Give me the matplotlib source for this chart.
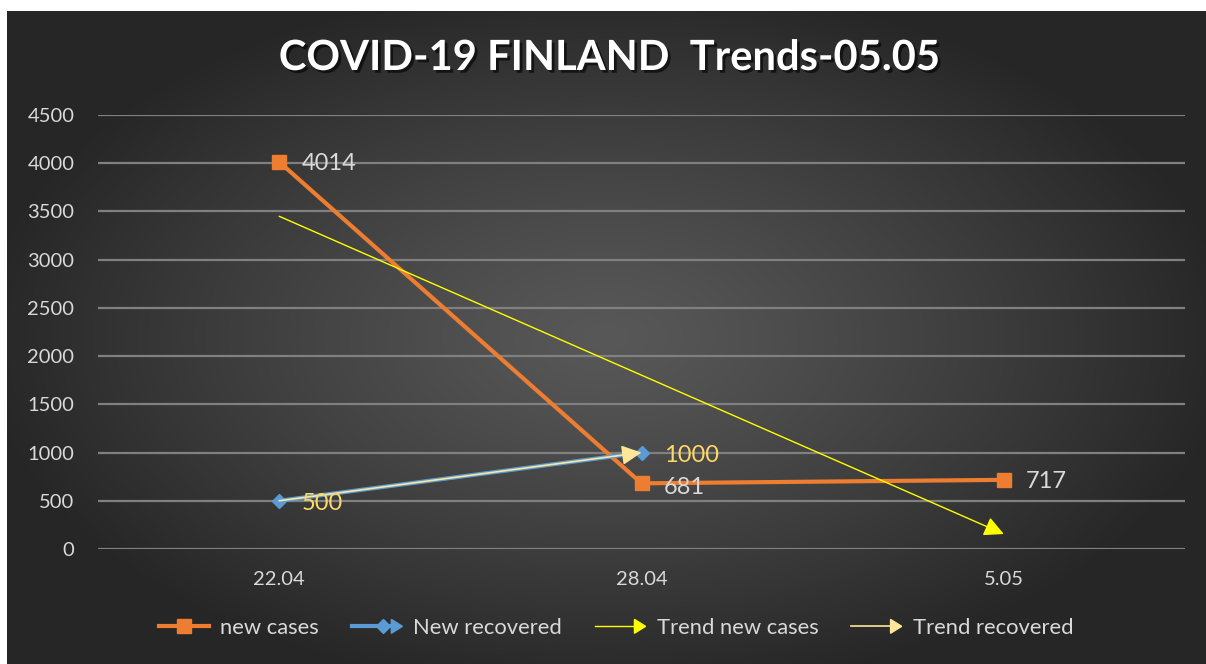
import numpy as np
import matplotlib
matplotlib.use("Agg")
import matplotlib.pyplot as plt
from matplotlib.lines import Line2D
from matplotlib.patches import Polygon
from matplotlib.legend_handler import HandlerBase
import matplotlib.patheffects as pe

plt.rcParams['font.family'] = ['Lato', 'DejaVu Sans']

# ---- data ----
dates = ["22.04", "28.04", "5.05"]
new_cases = [4014, 681, 717]
recovered_dates = ["22.04", "28.04"]
new_recovered = [500, 1000]
trend_nc_dates = ["22.04", "5.05"]
trend_new_cases = [3450, 155]
trend_rec_dates = ["22.04", "28.04"]
trend_recovered = [500, 1000]
y_ticks = [0, 500, 1000, 1500, 2000, 2500, 3000, 3500, 4000, 4500]
title = "COVID-19 FINLAND  Trends-05.05"

ORANGE = "#ED7D31"
BLUE = "#5B9BD5"
YELLOW = "#FFFF00"
LIGHTYEL = "#FFE699"
LABEL_GRAY = "#D9D9D9"
LABEL_YEL = "#FFD966"

W, H = 1206, 664
fig = plt.figure(figsize=(W / 100, H / 100), dpi=100)
fig.patch.set_facecolor("white")

# ---- gradient background panel ----
bg = fig.add_axes([7 / W, 0, 1 - 7 / W, (H - 11) / H])
bg.set_axis_off()
gx, gy = np.meshgrid(np.linspace(-1, 1, 600), np.linspace(-1, 1, 330))
r = np.sqrt((gx / 1.05) ** 2 + (gy / 1.1) ** 2)
r = np.clip(r, 0, 1)
c = 0.345 - (0.345 - 0.15) * r ** 1.2
img = np.dstack([c, c, c])
bg.imshow(img, aspect="auto", extent=[0, 1, 0, 1], interpolation="bilinear")
bg.set_xlim(0, 1)
bg.set_ylim(0, 1)

# ---- main axes ----
ax = fig.add_axes([98 / W, (H - 549) / H, 1087 / W, 434 / H])
ax.patch.set_alpha(0)
for s in ax.spines.values():
    s.set_visible(False)

xpos = {d: i for i, d in enumerate(dates)}
x_nc = [xpos[d] for d in dates]
x_rec = [xpos[d] for d in recovered_dates]
x_tnc = [xpos[d] for d in trend_nc_dates]
x_trec = [xpos[d] for d in trend_rec_dates]

ax.set_xlim(-0.5, len(dates) - 0.5)
ax.set_ylim(y_ticks[0], y_ticks[-1])
ax.set_yticks(y_ticks)
ax.set_xticks(x_nc)
ax.set_xticklabels(dates)
ax.yaxis.grid(True, color="#808080", linewidth=1.6, zorder=0)
ax.set_axisbelow(True)
ax.tick_params(axis="both", length=0, colors=LABEL_GRAY, labelsize=14.5)
ax.tick_params(axis="y", pad=17)
ax.tick_params(axis="x", pad=16)

ax.plot(x_nc, new_cases, color=ORANGE, lw=3, marker="s", markersize=10,
        solid_capstyle="butt", zorder=3)
ax.plot(x_rec, new_recovered, color=BLUE, lw=3, marker="D", markersize=7, zorder=4)

ax.annotate("", xy=(x_trec[1], trend_recovered[1]), xytext=(x_trec[0], trend_recovered[0]),
            arrowprops=dict(arrowstyle="-|>,head_length=0.6,head_width=0.3", color=LIGHTYEL,
                            lw=1.2, shrinkA=0, shrinkB=0, mutation_scale=20), zorder=5)
ax.annotate("", xy=(x_tnc[1], trend_new_cases[1]), xytext=(x_tnc[0], trend_new_cases[0]),
            arrowprops=dict(arrowstyle="-|>,head_length=0.6,head_width=0.3", color=YELLOW,
                            lw=1.0, shrinkA=0, shrinkB=0, mutation_scale=20), zorder=5)

# data labels
for xi, v in zip(x_nc, new_cases):
    dy = -3 if v == 681 else -1.5
    ax.annotate(str(v), (xi, v), xytext=(16, dy), textcoords="offset points",
                ha="left", va="center", color=LABEL_GRAY, fontsize=17, zorder=6)
for xi, v in zip(x_rec, new_recovered):
    ax.annotate(str(v), (xi, v), xytext=(16, -2), textcoords="offset points",
                ha="left", va="center", color=LABEL_YEL, fontsize=17, zorder=6)

# title
fig.text(609 / W, 1 - 58 / H, title, ha="center", va="center", color="white",
         fontsize=30, fontweight="bold",
         path_effects=[pe.withSimplePatchShadow(offset=(2, -2), shadow_rgbFace="black", alpha=0.6)])


# ---- legend ----
class LineHandler(HandlerBase):
    def __init__(self, color, lw, marker=None, msize=0, arrow=False):
        super().__init__()
        self.color, self.lw, self.marker, self.msize, self.arrow = color, lw, marker, msize, arrow

    def create_artists(self, legend, orig_handle, xdescent, ydescent, width, height, fontsize, trans):
        y = height / 2 - ydescent
        x0, x1 = -xdescent, width - xdescent
        arts = []
        head = 8 if self.arrow else 0
        arts.append(Line2D([x0, x1 - head], [y, y], color=self.color, lw=self.lw, transform=trans))
        if self.marker:
            mx = (x0 + x1) / 2 if not self.arrow else x1 - head - 6
            arts.append(Line2D([mx], [y], marker=self.marker, markersize=self.msize,
                               color=self.color, lw=0, transform=trans))
        if self.arrow:
            arts.append(Polygon([[x1 - head, y - 5], [x1 - head, y + 5], [x1, y]], closed=True,
                                color=self.color, transform=trans))
        return arts


handles = [Line2D([], []), Line2D([], []), Line2D([], []), Line2D([], [])]
labels = ["new cases", "New recovered", "Trend new cases", "Trend recovered"]
hmap = {
    handles[0]: LineHandler(ORANGE, 3, "s", 10),
    handles[1]: LineHandler(BLUE, 3, "D", 7, arrow=True),
    handles[2]: LineHandler(YELLOW, 1.0, arrow=True),
    handles[3]: LineHandler(LIGHTYEL, 1.2, arrow=True),
}
leg = fig.legend(handles, labels, handler_map=hmap, loc="center",
                 bbox_to_anchor=(616 / W, 1 - 628 / H), ncol=4, frameon=False,
                 fontsize=15.8, handlelength=2.3, handletextpad=0.5, columnspacing=1.5,
                 labelcolor=LABEL_GRAY)

fig.savefig("out.png", dpi=100, facecolor=fig.get_facecolor())
